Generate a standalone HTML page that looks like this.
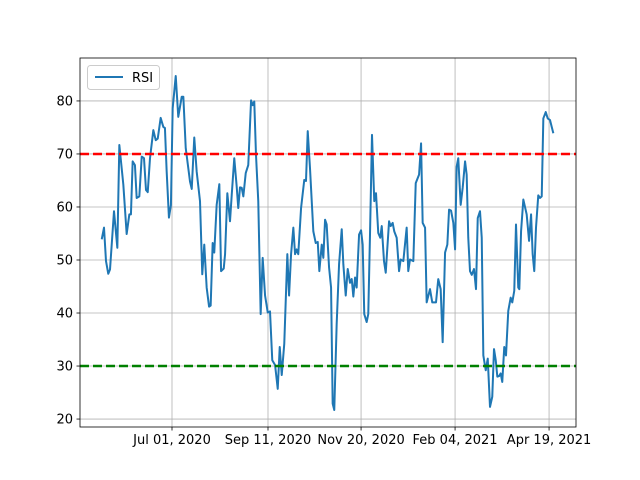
<!DOCTYPE html>
<html><head><meta charset="utf-8"><style>
body{margin:0;background:#fff}
svg{display:block;font-family:"DejaVu Sans","Liberation Sans",sans-serif}
</style></head><body>
<svg id="chart" width="640" height="480"></svg>
<script>
const sessions=[-52.7,-51,-49.5,-47.8,-46.5,-43.5,-41,-39.5,-36.5,-34,-32,-30.8,-29.5,-27.8,-26.5,-24.5,-22.7,-21,-19.5,-18.2,-16.5,-14,-12.2,-10.7,-8.5,-6.5,-5.3,-4,-2.3,-0.8,0.5,2.8,4.7,7.3,8.5,10.3,13.5,14.8,16.7,18.5,21,22.7,24.2,26,27.8,29,30.5,31.7,33.5,35.5,36.8,38.8,39.8,41.5,43.5,44.8,46.7,48.5,49.7,51,52.3,53.5,55.3,57.2,59.3,60.5,61.7,63,64.7,66.5,68,69.8,71.8,73.5,75.2,77.3,79.3,80.8,82.3,84.2,86.5,87.8,89.3,91,92.3,93.5,94.7,96.8,99.2,100.5,101.8,103.5,106,107.8,109.3,110.5,112.3,113.5,114.8,116,117.8,119.3,120.5,121.7,123.5,125.3,127.3,128.5,130.3,131.8,133.5,134.8,136,137.3,138.5,140.3,141.8,143,144.2,146,147.2,148.5,150,151.7,153,154.7,156.2,157.3,159,160.3,162.8,164,165.5,166.7,168.5,170.3,171.5,173.5,176,177.2,178.5,181,182.8,185.3,186.8,188,189.8,191,193.5,195.2,198,199.7,201.5,203,204.8,206.5,207.8,209.3,211,212.3,213.5,214.7,216.5,218,219.8,221,222.2,223.5,224.8,226.5,228,229.3,231,232.3,233.5,235.3,236.8,238.5,240.2,241.5,242.8,244,245.3,246.5,247.7,249.2,250.5,252.2,254,255.2,256.7,258,259.7,260.5,261.8,263.5,266,267.8,269.3,270.5,271.7,273,274.7,276,277.3,278.5,280.3,281.8,283.5,286];
const rsi=[53.9,56.1,49.8,47.4,48.2,59.2,52.3,71.7,64.2,54.9,58.6,58.6,68.6,67.9,61.7,62,69.5,69.2,63.2,62.8,69.2,74.5,72.6,72.9,76.8,75.1,74.9,66.7,58,60.4,78.6,84.7,77,80.8,80.8,71.1,64.8,63.4,73.1,66.7,61.1,47.3,52.9,44.8,41.2,41.4,53.2,51.4,60.4,64.3,47.9,48.4,51.1,62.6,57.3,62.3,69.2,63.9,59.8,63.7,63.6,62,66.4,67.9,80.1,79.2,79.9,69.8,61.1,39.8,50.4,43.3,40.1,40.3,31.1,30.2,25.7,33.6,28.3,34.2,51.1,43.3,51.1,56.1,51.1,52,51.1,59.8,65.1,64.9,74.3,67.3,55.4,53.2,53.4,47.9,52.9,50.4,57.6,56.7,48.6,44.8,22.9,21.7,37.9,49.2,55.8,49.2,43.3,48.3,45.7,46.4,43.1,46.7,44.8,54.8,55.6,52.9,39.8,38.3,39.8,54.8,73.6,61.1,62.6,55.1,54.2,56.4,49.8,47.6,57.3,56.4,57,55.4,54.2,47.9,50.1,49.8,56.1,47.9,50.1,49.8,64.5,66.1,72,57,56.1,42,44.5,42,42,46.4,44.5,34.5,51.4,52.9,59.5,59.3,57,52,67.6,69.2,60.4,63.6,68.6,66.1,54.2,47.9,47.2,48.3,44.5,57.9,59.2,54.2,32,29.2,31.4,22.3,24.2,33.2,31.1,28,28.1,28.6,27,33.6,32,40.4,42.9,42,44.2,56.7,44.8,44.5,55.4,61.4,58.6,53.6,58.6,51.1,47.9,56.1,62.2,61.7,62,76.7,77.9,76.7,76.4,73.9,82,82.6,77.3,73.3];
const xTickPos=[0,72,141.8,212.3,282.8];
const xTickLabels=["Jul 01, 2020","Sep 11, 2020","Nov 20, 2020","Feb 04, 2021","Apr 19, 2021"];
const yTicks=[20,30,40,50,60,70,80];
const levels=[70,30];

const NS="http://www.w3.org/2000/svg";
const svg=document.getElementById('chart');
const L=80,R=576,T=58,B=427;
const xMin=-69,xMax=303,yMin=18.5,yMax=88.1;
const sx=v=>L+(v-xMin)/(xMax-xMin)*(R-L);
const sy=v=>B-(v-yMin)/(yMax-yMin)*(B-T);
function mk(tag,at,parent){const e=document.createElementNS(NS,tag);for(const k in at)e.setAttribute(k,at[k]);(parent||svg).appendChild(e);return e;}

const grid=mk('g',{});


xTickPos.forEach((p,i)=>{
  const x=sx(p);
  const g=mk('line',{x1:x,x2:x,y1:T,y2:B,stroke:'#b0b0b0','stroke-width':0.8},grid);
  
  
  mk('line',{x1:x,x2:x,y1:B,y2:B+3.5,stroke:'#000','stroke-width':0.8});
  const t=mk('text',{x:x,y:B+17,'text-anchor':'middle','font-size':13,fill:'#000'});
  t.textContent=xTickLabels[i];
  
  
});
yTicks.forEach(v=>{
  const y=sy(v);
  const g=mk('line',{x1:L,x2:R,y1:y,y2:y,stroke:'#b0b0b0','stroke-width':0.8},grid);
  
  
  mk('line',{x1:L-3.5,x2:L,y1:y,y2:y,stroke:'#000','stroke-width':0.8});
  const t=mk('text',{x:L-7,y:y+4.5,'text-anchor':'end','font-size':13,fill:'#000'});
  t.textContent=v;
  
  
});

const line=mk('polyline',{points:sessions.map((d,i)=>sx(d)+','+sy(rsi[i])).join(' '),fill:'none',stroke:'#1f77b4','stroke-width':2,'stroke-linejoin':'round'});



levels.forEach((v,i)=>{
  const y=sy(v);
  const l=mk('line',{x1:L,x2:R,y1:y,y2:y,stroke:i===0?'#ff0000':'#008000','stroke-width':2.5,'stroke-dasharray':'9,4'});
  
  
});

const frame=mk('rect',{x:L,y:T,width:R-L,height:B-T,fill:'none',stroke:'#000','stroke-width':0.8});



const leg=mk('g',{});


mk('rect',{x:87.5,y:65.5,width:72,height:24,rx:3,fill:'#fff','fill-opacity':0.8,stroke:'#cccccc','stroke-width':1},leg);
const ls=mk('line',{x1:95,x2:123,y1:77,y2:77,stroke:'#1f77b4','stroke-width':2},leg);


const lt=mk('text',{x:132,y:82,'font-size':13,fill:'#000'},leg);
lt.textContent='RSI';


</script>
</body></html>
